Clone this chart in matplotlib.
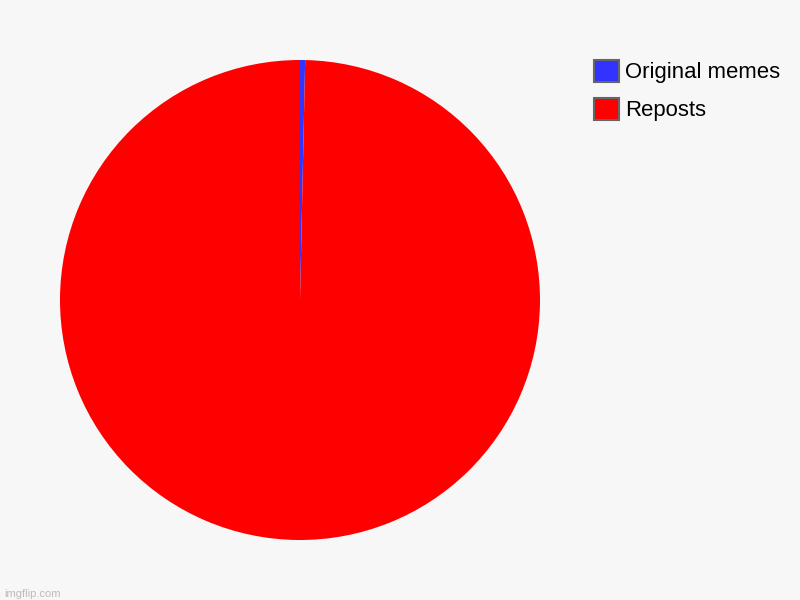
import matplotlib.pyplot as plt
from matplotlib.patches import Patch

labels = ["Original memes", "Reposts"]
values = [1, 290]
colors = ["#3333ff", "#ff0000"]

plt.rcParams['font.family'] = ['Liberation Sans', 'DejaVu Sans']

fig = plt.figure(figsize=(8, 6), dpi=100, facecolor="#f7f7f7")
ax = fig.add_axes([60/800, 60/600, 480/800, 480/600])
ax.set_facecolor("#f7f7f7")
ax.pie(values, colors=colors, startangle=90, counterclock=False,
       wedgeprops={"linewidth": 0}, radius=1)
ax.set_xlim(-1, 1)
ax.set_ylim(-1, 1)
ax.set_aspect("equal")

handles = [Patch(facecolor=c, edgecolor="#666666", linewidth=1.5) for c in colors]
fig.legend(handles, labels, loc="upper left", bbox_to_anchor=(594/800, 1 - 60/600),
           frameon=False, fontsize=15.9, handlelength=1.12, handleheight=1.15,
           handletextpad=0.3, labelspacing=0.66, borderaxespad=0, borderpad=0)

fig.text(4/800, 3/600, "imgflip.com", color="#bbbbbb", fontsize=8)

fig.savefig("out.png", dpi=100, facecolor=fig.get_facecolor())
